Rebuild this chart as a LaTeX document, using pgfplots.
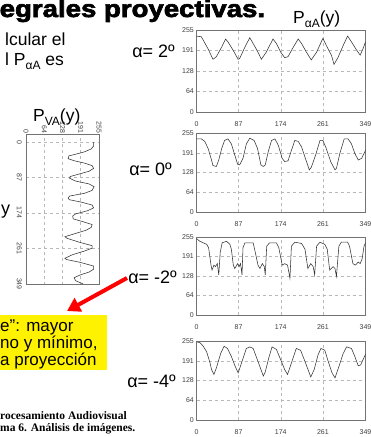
\documentclass[border=0pt]{standalone}
\usepackage{fontspec}
\setmainfont{Liberation Sans}
\newfontfamily\titlefont[FakeBold=2.6]{Liberation Sans Bold}
\newfontfamily\footfont{Liberation Serif}
\usepackage{pgfplots}
\pgfplotsset{compat=1.18}
\usepackage{pgfplotstable}
\usetikzlibrary{arrows.meta}

\newcommand\tickfont{\fontsize{7}{7}\selectfont}

\pgfplotstableread{
x y
0 236
10 234
24 196
34 164
41 172
52 202
60 227
65 218
76 191
86 164
89 166
100 202
110 231
117 213
127 186
134 164
144 186
158 227
165 213
174 186
182 169
189 172
200 202
210 227
217 213
227 186
237 162
248 186
261 229
268 207
279 175
284 148
292 169
303 207
312 236
320 218
330 194
338 177
344 197
349 218
}\plotA

\pgfplotstableread{
x y
0 236
10 236
17 228
24 205
31 168
34 150
41 147
46 168
52 205
58 231
65 236
72 220
79 184
85 154
89 152
96 173
103 220
110 238
119 231
126 205
133 152
138 147
142 152
148 194
155 231
162 236
169 215
177 173
182 163
189 165
196 199
203 231
210 228
217 210
226 168
233 136
237 144
246 184
255 231
261 231
268 205
277 163
286 136
289 141
296 189
305 236
313 236
320 220
327 189
334 168
341 173
349 199
}\plotB

\pgfplotstableread{
x y
0 250
7 241
21 231
25 220
30 163
32 147
36 163
39 158
43 168
46 131
49 205
53 236
62 241
69 231
72 215
76 163
79 152
85 168
88 158
91 168
94 131
96 220
100 236
117 236
120 215
127 163
131 152
136 168
140 158
142 131
145 225
151 236
165 236
170 220
177 163
182 168
188 163
193 120
196 225
203 238
217 234
224 215
230 152
236 168
241 158
244 131
248 225
255 238
265 231
270 215
275 147
282 158
286 152
289 126
294 225
299 238
312 238
316 225
323 168
328 163
334 173
338 168
342 184
346 225
349 236
}\plotC

\pgfplotstableread{
x y
0 252
7 250
14 238
21 220
28 184
31 163
36 147
41 168
50 215
57 238
64 231
72 205
80 173
86 152
93 184
103 231
110 236
117 231
127 189
138 142
142 155
149 199
156 236
165 228
174 194
182 163
188 147
196 184
206 231
215 225
224 189
236 139
243 163
251 210
257 231
265 225
272 189
280 152
286 136
292 163
303 215
310 236
320 231
327 205
334 175
339 178
349 212
}\plotD

\pgfplotsset{
  base/.style={
    scale only axis, anchor=north west,
    grid=major,
    major grid style={draw=black!28, dash pattern=on 3pt off 3pt, line width=0.5pt},
    axis line style={draw=black!55, line width=0.9pt},
    major tick length=0pt,
    /pgf/number format/assume math mode=true,
    tick label style={font=\tickfont, text=black!75, inner sep=0pt},
  },
  rplot/.style={
    base, width=169pt,
    xmin=0, xmax=349, ymin=0, ymax=255,
    xtick={0,87,174,261,349}, ytick={0,64,128,191,255},
    yticklabel shift=2.5pt,
    xticklabel shift=9.5pt,
  },
  curve/.style={draw=black!80, line width=0.55pt, mark=none},
}

\begin{document}
\begin{tikzpicture}[x=1pt,y=1pt]
\useasboundingbox (0,0) rectangle (371,-437);
\fill[white] (0,0) rectangle (371,-437);
\begin{scope}
\clip (0,0) rectangle (371,-437);

% right plots
\begin{axis}[rplot, at={(196.5pt,-30pt)}, height=82pt]
\addplot[curve] table[x=x,y=y] {\plotA};
\end{axis}
\begin{axis}[rplot, at={(196.5pt,-133pt)}, height=79pt]
\addplot[curve] table[x=x,y=y] {\plotB};
\end{axis}
\begin{axis}[rplot, at={(196.5pt,-237pt)}, height=78pt]
\addplot[curve] table[x=x,y=y] {\plotC};
\end{axis}
\begin{axis}[rplot, at={(196.5pt,-341pt)}, height=79pt]
\addplot[curve] table[x=x,y=y] {\plotD};
\end{axis}

% left vertical plot
\begin{axis}[base, at={(26pt,-134.7pt)}, width=73pt, height=150pt,
  xmin=0, xmax=255, ymin=-351, ymax=18,
  xtick={0,64,128,191,255},
  ytick={-349,-261,-174,-87,0},
  yticklabels={349,261,174,87,0},
  xticklabel pos=upper,
  xticklabel style={rotate=-90, anchor=east},
  yticklabel style={rotate=-90, anchor=north},
  xticklabel shift=1.5pt,
  yticklabel shift=4pt]
\addplot[curve] table[x=y, y expr=-\thisrow{x}] {\plotB};
\end{axis}

% yellow box and arrow
\fill[yellow] (0,-315) rectangle (107,-370);
\draw[red, line width=4pt, -{Triangle[length=13pt,width=15pt]}] (127,-278) -- (67,-311);

% texts
\node[anchor=base west, inner sep=0] at (-0.5,-17)
  {\titlefont\fontsize{24}{24}\selectfont\scalebox{1.15}[1]{egrales proyectivas.}};
\node[anchor=base west, inner sep=0, font=\fontsize{17.5}{17.5}\selectfont] at (5,-45) {lcular el};
\node[anchor=base west, inner sep=0, font=\fontsize{17.5}{17.5}\selectfont] at (5,-65)
  {l P\raisebox{-0.25em}{\fontsize{12}{12}\selectfont αA} es};
\node[anchor=base west, inner sep=0, font=\fontsize{17.5}{18}\selectfont] at (293,-23)
  {P\raisebox{-0.25em}{\fontsize{12}{12}\selectfont αA}(y)};
\node[anchor=base west, inner sep=0, font=\fontsize{17.5}{18}\selectfont] at (33,-121)
  {P\raisebox{-0.25em}{\fontsize{12}{12}\selectfont VA}(y)};
\node[anchor=base west, inner sep=0, font=\fontsize{18}{18}\selectfont] at (1,-214) {y};

\node[anchor=base east, inner sep=0, font=\fontsize{18}{18}\selectfont] at (175,-57) {α= 2º};
\node[anchor=base east, inner sep=0, font=\fontsize{18}{18}\selectfont] at (172,-175) {α= 0º};
\node[anchor=base east, inner sep=0, font=\fontsize{18}{18}\selectfont] at (177,-283) {α= -2º};
\node[anchor=base east, inner sep=0, font=\fontsize{18}{18}\selectfont] at (176,-387) {α= -4º};

\node[anchor=base west, inner sep=0, font=\fontsize{17}{17}\selectfont] at (0,-331) {e”: mayor};
\node[anchor=base west, inner sep=0, font=\fontsize{17}{17}\selectfont] at (0,-348) {no y mínimo,};
\node[anchor=base west, inner sep=0, font=\fontsize{17}{17}\selectfont] at (0,-365) {a proyección};

\node[anchor=base west, inner sep=0, font=\footfont\bfseries\fontsize{11.5}{12}\selectfont] at (0,-419) {rocesamiento Audiovisual};
\node[anchor=base west, inner sep=0, font=\footfont\bfseries\fontsize{11.5}{12}\selectfont] at (0,-431) {ma 6. Análisis de imágenes.};
\end{scope}
\end{tikzpicture}
\end{document}
